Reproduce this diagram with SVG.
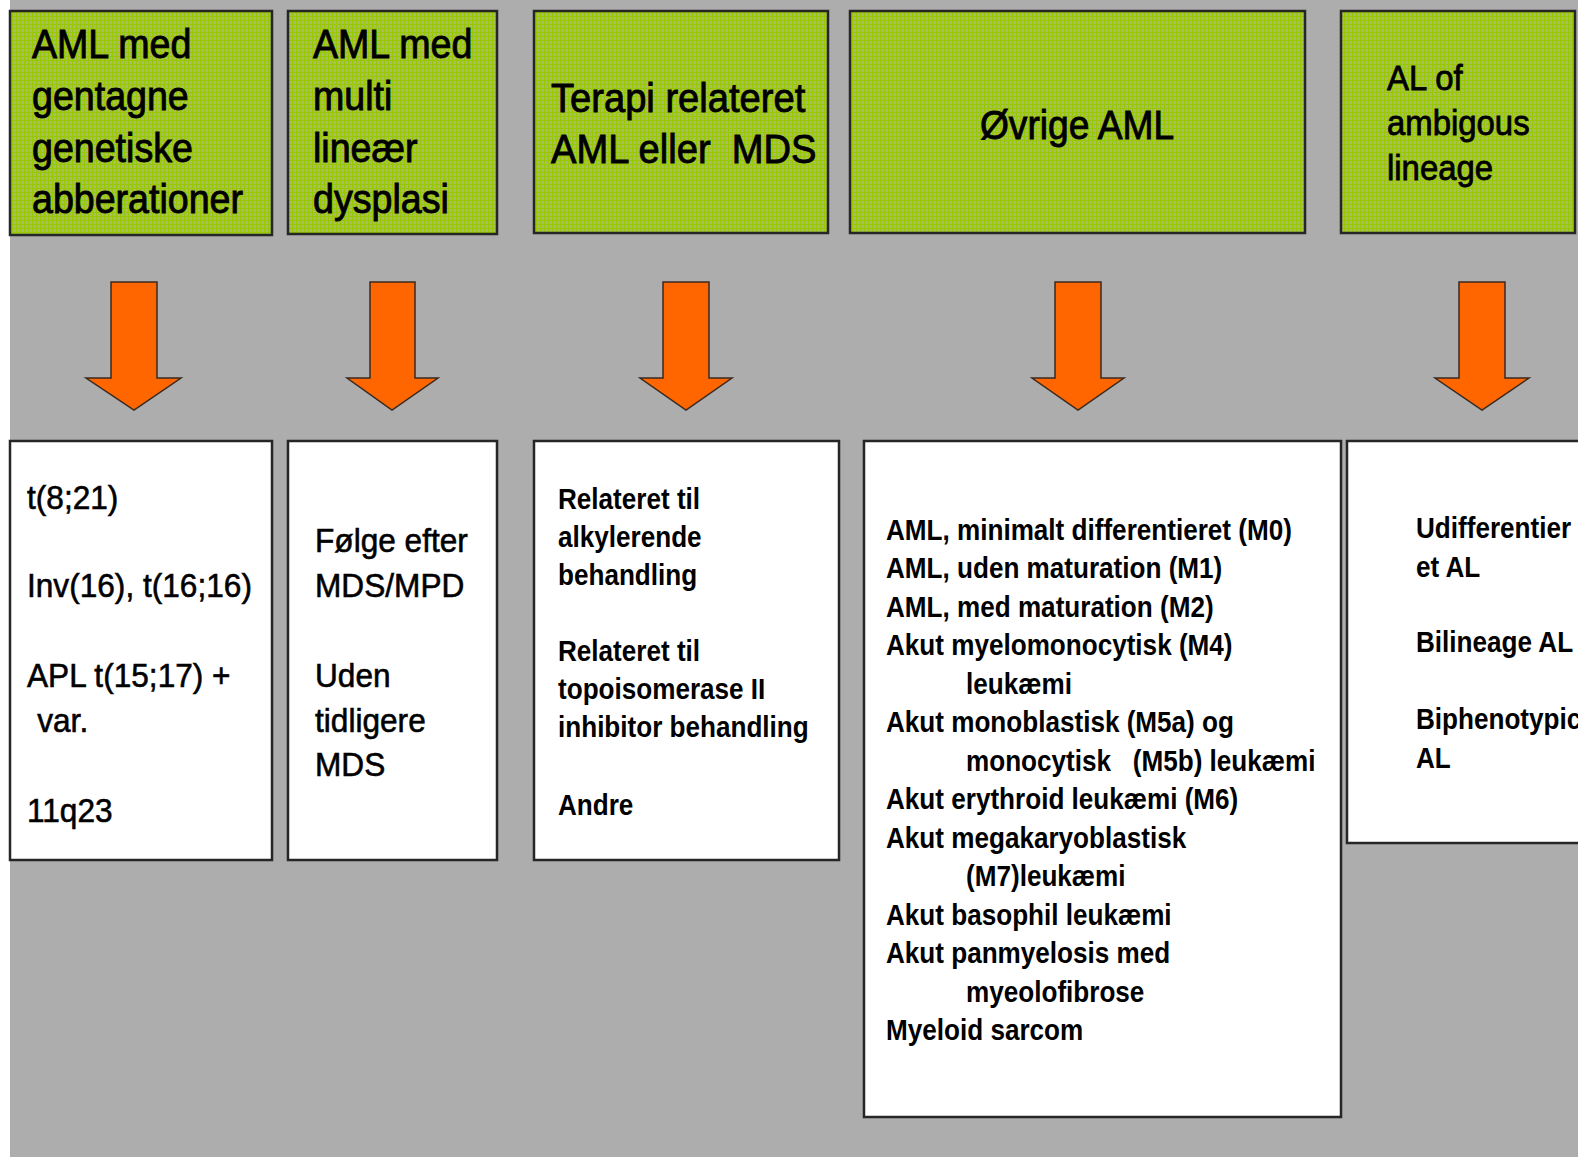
<svg xmlns="http://www.w3.org/2000/svg" width="1578" height="1157" viewBox="0 0 1578 1157">
<defs>
<pattern id="grn" x="0" y="0" width="4" height="4" patternUnits="userSpaceOnUse">
<rect x="0" y="0" width="4" height="4" fill="#a7bd5e"/>
<rect x="0" y="0" width="1" height="4" fill="#98c800"/>
<rect x="0" y="0" width="4" height="1" fill="#98c800"/>
</pattern>
</defs>
<style>
.bg{fill:#adadad}
.g{fill:url(#grn);stroke:#262626;stroke-width:2.5}
.w{fill:#ffffff;stroke:#262626;stroke-width:2.5}
.arr{fill:#ff6600;stroke:#3a2a20;stroke-width:1.5;stroke-linejoin:miter}
text{font-family:"Liberation Sans",Arial,sans-serif;fill:#000}
.h{font-size:40px;stroke:#000;stroke-width:0.9}
.h5{font-size:35px;stroke:#000;stroke-width:0.8}
.r{font-size:34px;stroke:#000;stroke-width:0.6}
.b{font-size:30px;font-weight:bold}
</style>
<rect x="0" y="0" width="1578" height="1157" fill="#ffffff"/>
<rect class="bg" x="10" y="0" width="1568" height="1157"/>

<g id="connectors">
<polygon class="arr" points="111,282 157,282 157,378 181,378 134,410 86,378 111,378"/>
<polygon class="arr" points="370,282 415,282 415,378 438,378 392,410 347,378 370,378"/>
<polygon class="arr" points="663,282 709,282 709,378 732,378 686,410 640,378 663,378"/>
<polygon class="arr" points="1055,282 1101,282 1101,378 1124,378 1078,410 1032,378 1055,378"/>
<polygon class="arr" points="1459,282 1505,282 1505,378 1529,378 1482,410 1435,378 1459,378"/>
</g>

<g id="head1">
<rect class="g" x="10" y="11" width="262" height="224"/>
<g transform="translate(32 0) scale(0.94 1)">
<text class="h" x="0" y="58">AML med</text>
<text class="h" x="0" y="110">gentagne</text>
<text class="h" x="0" y="162">genetiske</text>
<text class="h" x="0" y="213">abberationer</text>
</g>
</g>

<g id="head2">
<rect class="g" x="288" y="11" width="209" height="223"/>
<g transform="translate(313 0) scale(0.94 1)">
<text class="h" x="0" y="58">AML med</text>
<text class="h" x="0" y="110">multi</text>
<text class="h" x="0" y="162">lineær</text>
<text class="h" x="0" y="213">dysplasi</text>
</g>
</g>

<g id="head3">
<rect class="g" x="534" y="11" width="294" height="222"/>
<g transform="translate(551 0) scale(0.93 1)">
<text class="h" x="0" y="112" style="font-size:41px">Terapi relateret</text>
<text class="h" x="0" y="163" style="font-size:41px" xml:space="preserve">AML eller  MDS</text>
</g>
</g>

<g id="head4">
<rect class="g" x="850" y="11" width="455" height="222"/>
<g transform="translate(1077 0) scale(0.93 1)">
<text class="h" x="0" y="139" text-anchor="middle">Øvrige AML</text>
</g>
</g>

<g id="head5">
<rect class="g" x="1341" y="11" width="234" height="222"/>
<g transform="translate(1387 0) scale(0.94 1)">
<text class="h5" x="0" y="90">AL of</text>
<text class="h5" x="0" y="135">ambigous</text>
<text class="h5" x="0" y="180">lineage</text>
</g>
</g>

<g id="body1">
<rect class="w" x="10" y="441" width="262" height="419"/>
<g transform="translate(27 0) scale(0.93 1)">
<text class="r" x="0" y="509">t(8;21)</text>
<text class="r" x="0" y="597">Inv(16), t(16;16)</text>
<text class="r" x="0" y="687">APL t(15;17) +</text>
<text class="r" x="11" y="732">var.</text>
<text class="r" x="0" y="822">11q23</text>
</g>
</g>

<g id="body2">
<rect class="w" x="288" y="441" width="209" height="419"/>
<g transform="translate(315 0) scale(0.93 1)">
<text class="r" x="0" y="552">Følge efter</text>
<text class="r" x="0" y="597">MDS/MPD</text>
<text class="r" x="0" y="687">Uden</text>
<text class="r" x="0" y="732">tidligere</text>
<text class="r" x="0" y="776">MDS</text>
</g>
</g>

<g id="body3">
<rect class="w" x="534" y="441" width="305" height="419"/>
<g transform="translate(558 0) scale(0.87 1)">
<text class="b" x="0" y="509">Relateret til</text>
<text class="b" x="0" y="547">alkylerende</text>
<text class="b" x="0" y="585">behandling</text>
<text class="b" x="0" y="661">Relateret til</text>
<text class="b" x="0" y="699">topoisomerase II</text>
<text class="b" x="0" y="737">inhibitor behandling</text>
<text class="b" x="0" y="815">Andre</text>
</g>
</g>

<g id="body4">
<rect class="w" x="864" y="441" width="477" height="676"/>
<g transform="translate(886 0) scale(0.87 1)">
<text class="b" x="0" y="540">AML, minimalt differentieret (M0)</text>
<text class="b" x="0" y="578.5">AML, uden maturation (M1)</text>
<text class="b" x="0" y="617">AML, med maturation (M2)</text>
<text class="b" x="0" y="655.5">Akut myelomonocytisk (M4)</text>
<text class="b" x="92" y="694">leukæmi</text>
<text class="b" x="0" y="732.5">Akut monoblastisk (M5a) og</text>
<text class="b" x="92" y="771" xml:space="preserve">monocytisk   (M5b) leukæmi</text>
<text class="b" x="0" y="809.5">Akut erythroid leukæmi (M6)</text>
<text class="b" x="0" y="848">Akut megakaryoblastisk</text>
<text class="b" x="92" y="886.5">(M7)leukæmi</text>
<text class="b" x="0" y="925">Akut basophil leukæmi</text>
<text class="b" x="0" y="963.5">Akut panmyelosis med</text>
<text class="b" x="92" y="1002">myeolofibrose</text>
<text class="b" x="0" y="1040.5">Myeloid sarcom</text>
</g>
</g>

<g id="body5">
<rect class="w" x="1347" y="441" width="240" height="402"/>
<g transform="translate(1416 0) scale(0.87 1)">
<text class="b" x="0" y="538">Udifferentier</text>
<text class="b" x="0" y="577">et AL</text>
<text class="b" x="0" y="652">Bilineage AL</text>
<text class="b" x="0" y="729">Biphenotypic</text>
<text class="b" x="0" y="768">AL</text>
</g>
</g>
</svg>
